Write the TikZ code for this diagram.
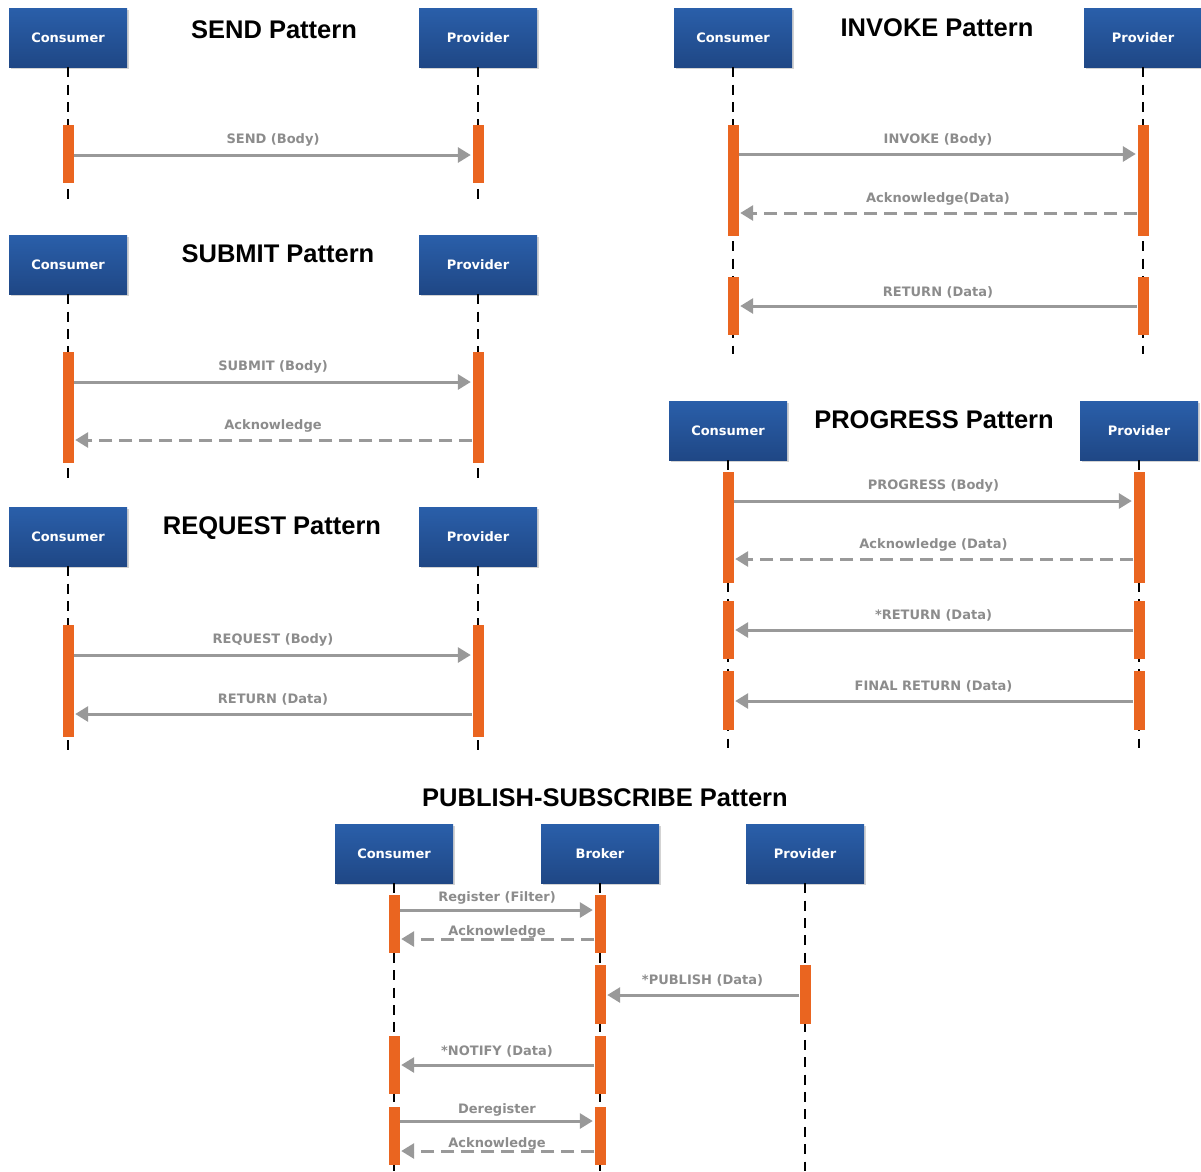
\documentclass[tikz,border=0pt]{standalone}
\usepackage{fontspec}
\usetikzlibrary{arrows.meta,shadows}
\newfontfamily\boxfont{DejaVu Sans}
\newfontfamily\headfont{Liberation Sans}

\definecolor{boxtop}{RGB}{42,95,170}
\definecolor{boxbot}{RGB}{31,71,133}
\definecolor{actor}{RGB}{234,101,32}
\definecolor{msggrey}{RGB}{153,153,153}
\definecolor{lblgrey}{RGB}{140,140,140}

\tikzset{
  head/.style={rectangle, minimum width=118pt, minimum height=59pt, inner sep=0pt,
    top color=boxtop, bottom color=boxbot, draw=none,
    drop shadow={shadow xshift=1.5pt, shadow yshift=-1.5pt, opacity=0.35},
    text=white, font=\boxfont\bfseries\fontsize{13}{15}\selectfont},
  title/.style={font=\headfont\bfseries\fontsize{25.5}{30}\selectfont, text=black, inner sep=0pt},
  life/.style={draw=black, line width=2.6pt, dash pattern=on 10pt off 7.4pt},
  actbox/.style={rectangle, fill=actor, draw=none, minimum width=11pt, inner sep=0pt},
  msg/.style={draw=msggrey, line width=3pt, -{Triangle[length=13pt,width=15pt]}, shorten >=1.5pt},
  reply/.style={msg, dash pattern=on 13pt off 7pt},
  lbl/.style={font=\boxfont\bfseries\fontsize{13}{15}\selectfont, text=lblgrey, inner sep=0pt}
}

% activation bar: name, x, top y, bottom y
\newcommand{\actbar}[4]{\node[actbox, minimum height={#4-#3}] (#1) at (#2,{(#3+#4)/2}) {};}
% message: style, start anchor, end anchor, y, label offset, label
\newcommand{\sendmsg}[6]{\draw[#1] (#2 |- 0,#4) -- node[lbl, yshift=#5pt] {#6} (#3 |- 0,#4);}

\begin{document}
\begin{tikzpicture}[x=1pt, y=-1pt]
\useasboundingbox (0,0) rectangle (1201,1171);

% ---------- SEND ----------
\node[title] (t1) at (274,30) {SEND Pattern};
\node[head] (c1) at (68,37.5) {Consumer};
\node[head] (p1) at (478,37.5) {Provider};
\draw[life] (c1.south) -- (c1.south |- 0,199);
\draw[life] (p1.south) -- (p1.south |- 0,199);
\actbar{c1a}{68}{125}{183}
\actbar{p1a}{478}{125}{183}
\sendmsg{msg}{c1a.east}{p1a.west}{155}{15}{SEND (Body)}

% ---------- SUBMIT ----------
\node[title] (t2) at (278,254) {SUBMIT Pattern};
\node[head] (c2) at (68,264.5) {Consumer};
\node[head] (p2) at (478,264.5) {Provider};
\draw[life] (c2.south) -- (c2.south |- 0,478);
\draw[life] (p2.south) -- (p2.south |- 0,478);
\actbar{c2a}{68}{352}{463}
\actbar{p2a}{478}{352}{463}
\sendmsg{msg}{c2a.east}{p2a.west}{382}{15}{SUBMIT (Body)}
\sendmsg{reply}{p2a.west}{c2a.east}{440}{14}{Acknowledge}

% ---------- REQUEST ----------
\node[title] (t3) at (272,528) {REQUEST Pattern};
\node[head] (c3) at (68,536.5) {Consumer};
\node[head] (p3) at (478,536.5) {Provider};
\draw[life] (c3.south) -- (c3.south |- 0,751);
\draw[life] (p3.south) -- (p3.south |- 0,751);
\actbar{c3a}{68}{625}{737}
\actbar{p3a}{478}{625}{737}
\sendmsg{msg}{c3a.east}{p3a.west}{655}{15}{REQUEST (Body)}
\sendmsg{msg}{p3a.west}{c3a.east}{714}{15}{RETURN (Data)}

% ---------- INVOKE ----------
\node[title] (t4) at (937,28) {INVOKE Pattern};
\node[head] (c4) at (733,37.5) {Consumer};
\node[head] (p4) at (1143,37.5) {Provider};
\draw[life] (c4.south) -- (c4.south |- 0,354);
\draw[life] (p4.south) -- (p4.south |- 0,354);
\actbar{c4a}{733}{125}{236}
\actbar{p4a}{1143}{125}{236}
\actbar{c4b}{733}{277}{335}
\actbar{p4b}{1143}{277}{335}
\sendmsg{msg}{c4a.east}{p4a.west}{154}{14}{INVOKE (Body)}
\sendmsg{reply}{p4a.west}{c4a.east}{213}{14}{Acknowledge(Data)}
\sendmsg{msg}{p4b.west}{c4b.east}{306}{14}{RETURN (Data)}

% ---------- PROGRESS ----------
\node[title] (t5) at (934,420) {PROGRESS Pattern};
\node[head] (c5) at (728,430.5) {Consumer};
\node[head] (p5) at (1139,430.5) {Provider};
\draw[life] (c5.south) -- (c5.south |- 0,748);
\draw[life] (p5.south) -- (p5.south |- 0,748);
\actbar{c5a}{728}{472}{583}
\actbar{p5a}{1139}{472}{583}
\actbar{c5b}{728}{601}{659}
\actbar{p5b}{1139}{601}{659}
\actbar{c5c}{728}{671}{730}
\actbar{p5c}{1139}{671}{730}
\sendmsg{msg}{c5a.east}{p5a.west}{501}{15}{PROGRESS (Body)}
\sendmsg{reply}{p5a.west}{c5a.east}{559}{14}{Acknowledge (Data)}
\sendmsg{msg}{p5b.west}{c5b.east}{630}{15}{*RETURN (Data)}
\sendmsg{msg}{p5c.west}{c5c.east}{701}{15}{FINAL RETURN (Data)}

% ---------- PUBLISH-SUBSCRIBE ----------
\node[title] (t6) at (605,798) {PUBLISH-SUBSCRIBE Pattern};
\node[head] (c6) at (394,853.5) {Consumer};
\node[head] (b6) at (600,853.5) {Broker};
\node[head] (p6) at (805,853.5) {Provider};
\draw[life] (c6.south) -- (c6.south |- 0,1171);
\draw[life] (b6.south) -- (b6.south |- 0,1171);
\draw[life] (p6.south) -- (p6.south |- 0,1171);
\actbar{c6a}{394}{895}{953}
\actbar{b6a}{600}{895}{953}
\actbar{b6b}{600}{965}{1024}
\actbar{p6b}{805}{965}{1024}
\actbar{c6c}{394}{1036}{1094}
\actbar{b6c}{600}{1036}{1094}
\actbar{c6d}{394}{1107}{1165}
\actbar{b6d}{600}{1107}{1165}
\sendmsg{msg}{c6a.east}{b6a.west}{910}{12}{Register (Filter)}
\sendmsg{reply}{b6a.west}{c6a.east}{939}{7.5}{Acknowledge}
\sendmsg{msg}{p6b.west}{b6b.east}{995}{15}{*PUBLISH (Data)}
\sendmsg{msg}{b6c.west}{c6c.east}{1065}{14}{*NOTIFY (Data)}
\sendmsg{msg}{c6d.east}{b6d.west}{1121}{11}{Deregister}
\sendmsg{reply}{b6d.west}{c6d.east}{1151}{7.5}{Acknowledge}
\end{tikzpicture}
\end{document}
